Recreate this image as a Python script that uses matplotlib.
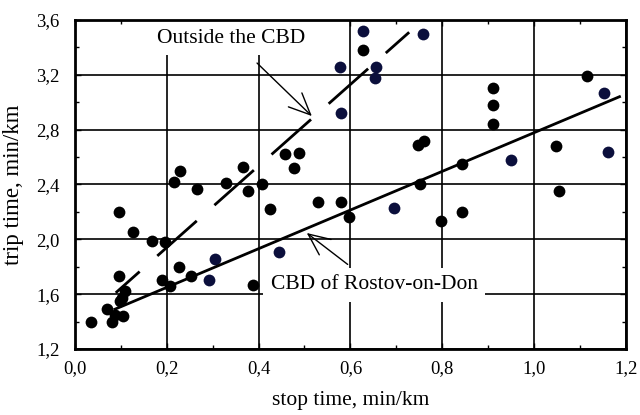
"""
Trip time vs stop time: CBD of Rostov-on-Don against outside the CBD.
Points read off the reference figure, two fitted lines drawn over them.
"""

import matplotlib
matplotlib.use("Agg")
import matplotlib.pyplot as plt
from matplotlib.ticker import MultipleLocator, FuncFormatter

plt.rcParams["font.family"] = ["Liberation Serif", "DejaVu Serif"]
plt.rcParams["lines.scale_dashes"] = False

# black observations (stop time, trip time)
black_x = [0.036, 0.069, 0.080, 0.087, 0.105, 0.098, 0.102, 0.109, 0.097,
           0.097, 0.127, 0.167, 0.196, 0.189, 0.208, 0.227, 0.252, 0.387,
           0.425, 0.407, 0.378, 0.329, 0.267, 0.216, 0.229, 0.367, 0.458,
           0.487, 0.478, 0.530, 0.580, 0.598, 0.627, 0.910, 0.910, 0.910,
           0.748, 0.761, 1.048, 1.115, 0.843, 0.752, 1.054, 0.797, 0.843]
black_y = [1.40, 1.49, 1.40, 1.45, 1.44, 1.55, 1.57, 1.62, 1.73,
           2.20, 2.05, 1.99, 1.98, 1.70, 1.66, 1.80, 1.73, 1.67,
           2.22, 2.40, 2.35, 2.41, 2.37, 2.42, 2.50, 2.53, 2.62,
           2.63, 2.52, 2.27, 2.27, 2.16, 3.38, 3.10, 2.98, 2.84,
           2.69, 2.72, 2.68, 3.19, 2.55, 2.40, 2.35, 2.13, 2.20]

# dark blue observations
navy_x = [0.291, 0.306, 0.445, 0.577, 0.580, 0.627, 0.656, 0.654, 0.759,
          1.153, 1.160, 0.950, 0.694]
navy_y = [1.70, 1.86, 1.91, 3.26, 2.92, 3.52, 3.26, 3.18, 3.50,
          3.07, 2.64, 2.58, 2.23]

# fitted lines (end points)
cbd_x = [0.087, 1.186]
cbd_y = [1.49, 3.04]
outside_x = [0.089, 0.728]
outside_y = [1.61, 3.51]

fig = plt.figure(figsize=(6.4, 4.15), dpi=100)
ax = fig.add_axes([0.117, 0.159, 0.861, 0.793])

ax.set_xlim(0.0, 1.2)
ax.set_ylim(1.2, 3.6)
ax.xaxis.set_major_locator(MultipleLocator(0.2))
ax.xaxis.set_minor_locator(MultipleLocator(0.1))
ax.yaxis.set_major_locator(MultipleLocator(0.4))
ax.yaxis.set_minor_locator(MultipleLocator(0.2))
comma = FuncFormatter(lambda v, _: f"{v:.1f}".replace(".", ","))
ax.xaxis.set_major_formatter(comma)
ax.yaxis.set_major_formatter(comma)
ax.tick_params(which="both", direction="in", top=True, right=True,
               labelsize=13.5, colors="black")
ax.tick_params(which="major", length=4, width=1)
ax.tick_params(which="minor", length=3, width=1)
ax.tick_params(axis="x", pad=8)
ax.tick_params(axis="y", pad=11)
ax.grid(True, which="major", color="black", linewidth=1.2)
ax.set_axisbelow(True)
for sp in ax.spines.values():
    sp.set_linewidth(2)
    sp.set_zorder(10)

ax.scatter(black_x, black_y, s=72, color="black", zorder=3, linewidths=0)
ax.scatter(navy_x, navy_y, s=72, color="#0b0f3c", zorder=3, linewidths=0)

ax.plot(cbd_x, cbd_y, color="black", linewidth=2, zorder=4)
ax.plot(outside_x, outside_y, color="black", linewidth=2, zorder=4,
        linestyle=(15, (38, 17)))

box = dict(boxstyle="square,pad=0.35", facecolor="white", edgecolor="none")
head = "->,head_length=1.0,head_width=0.45"
ax.annotate("Outside the CBD", xy=(0.516, 2.899), xytext=(0.341, 3.466),
            ha="center", va="center", fontsize=15.5, bbox=box, zorder=5,
            arrowprops=dict(arrowstyle=head, color="black", linewidth=1,
                            shrinkA=8, shrinkB=0))
ax.annotate("CBD of Rostov-on-Don", xy=(0.505, 2.046), xytext=(0.652, 1.668),
            ha="center", va="center", fontsize=15.5, bbox=box, zorder=5,
            arrowprops=dict(arrowstyle=head, color="black", linewidth=1,
                            shrinkA=4, shrinkB=0))

ax.set_xlabel("stop time, min/km", fontsize=15.5, labelpad=10)
ax.set_ylabel("trip time, min/km", fontsize=16.5, labelpad=9)

fig.savefig("out.png", dpi=100)
